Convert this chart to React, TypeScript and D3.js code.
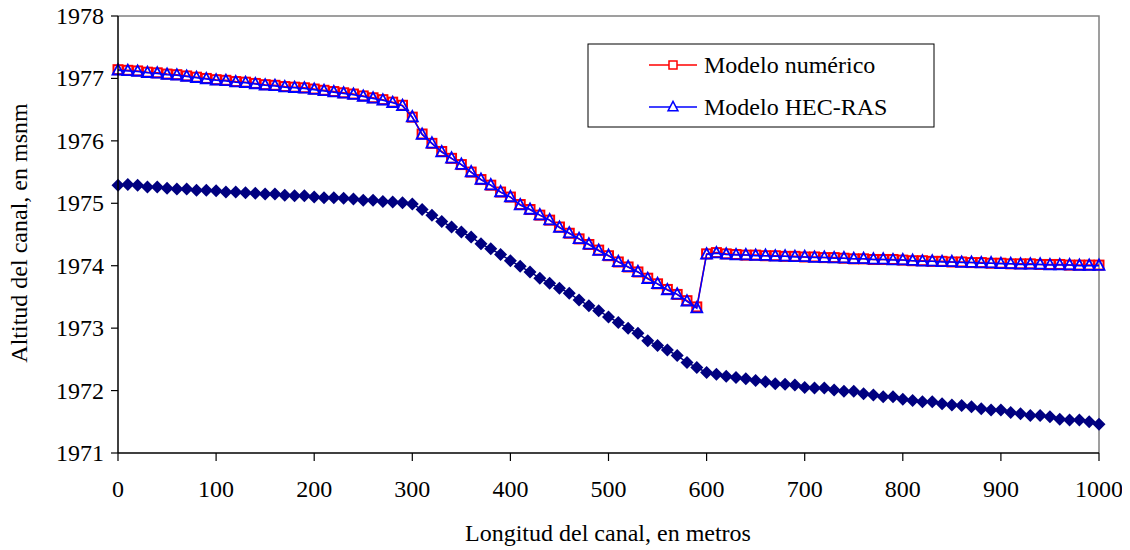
import React from "react";
import * as d3 from "d3";

const distances: number[] = d3.range(0, 1001, 10);

const numericModel: number[] = [
  1977.14, 1977.13, 1977.12, 1977.10, 1977.09, 1977.07, 1977.06, 1977.04, 1977.02, 1977.00,
  1976.98, 1976.97, 1976.95, 1976.94, 1976.92, 1976.90, 1976.89, 1976.87, 1976.86, 1976.85,
  1976.83, 1976.81, 1976.79, 1976.77, 1976.75, 1976.72, 1976.69, 1976.66, 1976.62, 1976.57,
  1976.38, 1976.11, 1975.96, 1975.83, 1975.72, 1975.62, 1975.50, 1975.38, 1975.29, 1975.18,
  1975.10, 1974.98, 1974.90, 1974.81, 1974.73, 1974.62, 1974.52, 1974.43, 1974.34, 1974.25,
  1974.16, 1974.06, 1973.98, 1973.90, 1973.80, 1973.71, 1973.62, 1973.54, 1973.44, 1973.34,
  1974.19, 1974.21, 1974.19, 1974.18, 1974.17, 1974.17, 1974.16, 1974.16, 1974.15, 1974.15,
  1974.14, 1974.14, 1974.13, 1974.13, 1974.12, 1974.11, 1974.11, 1974.10, 1974.10, 1974.10,
  1974.09, 1974.08, 1974.08, 1974.07, 1974.07, 1974.06, 1974.06, 1974.05, 1974.05, 1974.04,
  1974.04, 1974.03, 1974.03, 1974.03, 1974.02, 1974.02, 1974.02, 1974.01, 1974.01, 1974.01,
  1974.01,
];

const hecRasModel: number[] = [
  1977.13, 1977.12, 1977.11, 1977.09, 1977.08, 1977.06, 1977.05, 1977.03, 1977.01, 1976.99,
  1976.97, 1976.96, 1976.94, 1976.93, 1976.91, 1976.89, 1976.88, 1976.86, 1976.85, 1976.84,
  1976.82, 1976.80, 1976.78, 1976.76, 1976.74, 1976.71, 1976.68, 1976.65, 1976.61, 1976.56,
  1976.38, 1976.10, 1975.96, 1975.82, 1975.72, 1975.62, 1975.50, 1975.38, 1975.29, 1975.18,
  1975.10, 1974.97, 1974.90, 1974.81, 1974.73, 1974.61, 1974.52, 1974.43, 1974.34, 1974.24,
  1974.16, 1974.06, 1973.98, 1973.90, 1973.79, 1973.71, 1973.61, 1973.54, 1973.43, 1973.32,
  1974.18, 1974.20, 1974.18, 1974.17, 1974.17, 1974.16, 1974.16, 1974.15, 1974.15, 1974.14,
  1974.14, 1974.13, 1974.13, 1974.12, 1974.12, 1974.11, 1974.11, 1974.10, 1974.10, 1974.09,
  1974.09, 1974.08, 1974.07, 1974.07, 1974.06, 1974.06, 1974.05, 1974.05, 1974.04, 1974.04,
  1974.03, 1974.03, 1974.02, 1974.02, 1974.02, 1974.01, 1974.01, 1974.01, 1974.00, 1974.00,
  1974.00,
];

const channelBed: number[] = [
  1975.29, 1975.30, 1975.29, 1975.26, 1975.26, 1975.24, 1975.23, 1975.23, 1975.21, 1975.21,
  1975.20, 1975.18, 1975.18, 1975.17, 1975.16, 1975.15, 1975.15, 1975.13, 1975.12, 1975.12,
  1975.10, 1975.09, 1975.09, 1975.08, 1975.07, 1975.05, 1975.05, 1975.03, 1975.02, 1975.01,
  1974.99, 1974.90, 1974.81, 1974.71, 1974.62, 1974.54, 1974.46, 1974.35, 1974.27, 1974.18,
  1974.08, 1973.99, 1973.90, 1973.80, 1973.72, 1973.64, 1973.56, 1973.45, 1973.36, 1973.28,
  1973.18, 1973.09, 1973.00, 1972.92, 1972.80, 1972.72, 1972.65, 1972.56, 1972.45, 1972.37,
  1972.29, 1972.26, 1972.23, 1972.21, 1972.19, 1972.16, 1972.14, 1972.11, 1972.10, 1972.09,
  1972.05, 1972.04, 1972.04, 1972.01, 1971.99, 1971.99, 1971.95, 1971.93, 1971.90, 1971.90,
  1971.86, 1971.84, 1971.82, 1971.82, 1971.79, 1971.77, 1971.76, 1971.74, 1971.71, 1971.69,
  1971.69, 1971.65, 1971.63, 1971.60, 1971.60, 1971.58, 1971.54, 1971.53, 1971.53, 1971.50,
  1971.46,
];

const xTicks: number[] = [0, 100, 200, 300, 400, 500, 600, 700, 800, 900, 1000];
const yTicks: number[] = [1971, 1972, 1973, 1974, 1975, 1976, 1977, 1978];
const legendLabels: string[] = ["Modelo numérico", "Modelo HEC-RAS"];

const W = 1130;
const H = 550;
const M = { left: 118, right: 1099, top: 16, bottom: 453 };
const FS = 24;
const txt = { fontFamily: '"Times New Roman"', fontSize: FS };

export default function App() {
  const x = d3.scaleLinear().domain([0, 1000]).range([M.left, M.right]);
  const y = d3.scaleLinear().domain([1971, 1978]).range([M.bottom, M.top]);

  const line = d3
    .line<number>()
    .x((_, i) => x(distances[i]))
    .y((d) => y(d));

  const sq = 9;
  const tri = (cx: number, cy: number, s: number) =>
    `M${cx},${cy - s * 0.62}L${cx + s * 0.55},${cy + s * 0.42}L${cx - s * 0.55},${cy + s * 0.42}Z`;
  const dia = (cx: number, cy: number, r: number) =>
    `M${cx},${cy - r}L${cx + r},${cy}L${cx},${cy + r}L${cx - r},${cy}Z`;

  const lx = 588, ly = 44, lw = 346, lh = 83;

  return (
    <svg width={W} height={H} style={{ display: "block", margin: "-8px 0 0 -8px" }}>
      <path
        d={`M${M.left},${M.top}H${M.right}V${M.bottom}`}
        fill="none"
        stroke="#808080"
        strokeWidth={1.5}
      />
      <path d={line(channelBed) || ""} fill="none" stroke="#000080" strokeWidth={1.5} />
      {channelBed.map((v, i) => (
        <path key={"b" + i} d={dia(x(distances[i]), y(v), 6.5)} fill="#000080" />
      ))}
      <path d={line(numericModel) || ""} fill="none" stroke="#ff0000" strokeWidth={1.5} />
      {numericModel.map((v, i) => (
        <rect
          key={"n" + i}
          x={x(distances[i]) - sq / 2}
          y={y(v) - sq / 2}
          width={sq}
          height={sq}
          fill="none"
          stroke="#ff0000"
          strokeWidth={2}
        />
      ))}
      <path d={line(hecRasModel) || ""} fill="none" stroke="#0000ff" strokeWidth={1.5} />
      {hecRasModel.map((v, i) => (
        <path
          key={"h" + i}
          d={tri(x(distances[i]), y(v), 10)}
          fill="none"
          stroke="#0000ff"
          strokeWidth={1.8}
        />
      ))}
      <line x1={M.left} x2={M.left} y1={M.top} y2={M.bottom} stroke="#000" strokeWidth={1.5} />
      <line x1={M.left} x2={M.right} y1={M.bottom} y2={M.bottom} stroke="#000" strokeWidth={1.5} />
      {yTicks.map((t) => (
        <g key={"yt" + t}>
          <line x1={M.left - 7} x2={M.left} y1={y(t)} y2={y(t)} stroke="#000" strokeWidth={1.2} />
          <text x={104} y={y(t) + 8} textAnchor="end" style={txt}>
            {String(t)}
          </text>
        </g>
      ))}
      {xTicks.map((t) => (
        <g key={"xt" + t}>
          <line x1={x(t)} x2={x(t)} y1={M.bottom} y2={M.bottom + 8} stroke="#000" strokeWidth={1.2} />
          <text x={x(t)} y={497} textAnchor="middle" style={txt}>
            {String(t)}
          </text>
        </g>
      ))}
      <text x={608} y={541} textAnchor="middle" style={txt}>
        Longitud del canal, en metros
      </text>
      <text transform="translate(27,233) rotate(-90)" textAnchor="middle" style={txt}>
        Altitud del canal, en msnm
      </text>
      <rect x={lx} y={ly} width={lw} height={lh} fill="#fff" stroke="#000" strokeWidth={1} />
      {legendLabels.map((lab, i) => {
        const cy = ly + 21 + i * 42;
        return (
          <g key={lab}>
            <line
              x1={649}
              x2={697}
              y1={cy}
              y2={cy}
              stroke={i === 0 ? "#ff0000" : "#0000ff"}
              strokeWidth={1.5}
            />
            {i === 0 ? (
              <rect x={673 - 4} y={cy - 4} width={8} height={8} fill="#fff" stroke="#ff0000" strokeWidth={1.5} />
            ) : (
              <path d={tri(673, cy, 9)} fill="#fff" stroke="#0000ff" strokeWidth={1.5} />
            )}
            <text x={704} y={cy + 8} style={txt}>
              {lab}
            </text>
          </g>
        );
      })}
    </svg>
  );
}
